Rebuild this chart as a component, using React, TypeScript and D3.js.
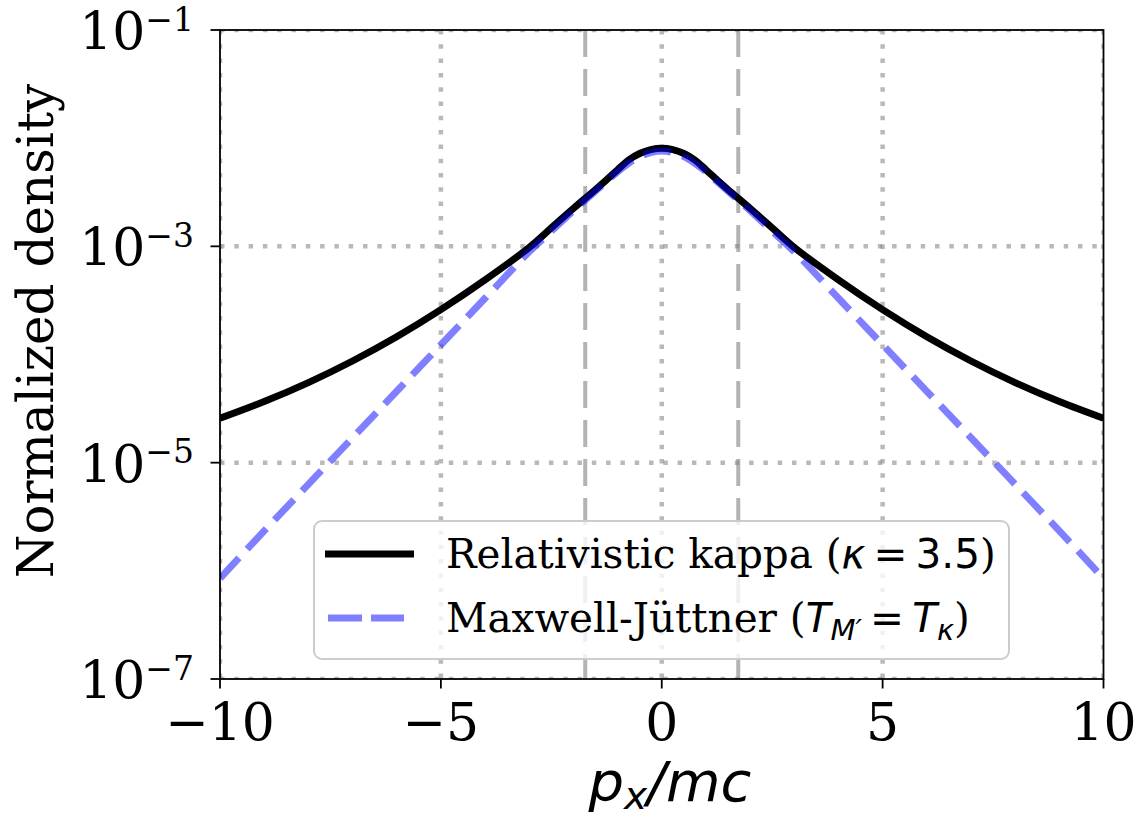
import React from "react";
import * as d3 from "d3";

// ---- data ----
const momentum = [
  -10, -9, -8, -7, -6, -5, -4, -3, -2.5, -2, -1.5, -1.25, -1, -0.75, -0.5, -0.25, 0,
  0.25, 0.5, 0.75, 1, 1.25, 1.5, 2, 2.5, 3, 4, 5, 6, 7, 8, 9, 10,
];
const kappaDensity = [
  2.57e-5, 3.67e-5, 5.5e-5, 8.71e-5, 1.46e-4, 2.6e-4, 4.9e-4, 9.77e-4, 1.48e-3, 2.24e-3, 3.35e-3, 4.12e-3, 5.1e-3, 6.28e-3, 7.21e-3, 7.83e-3, 8.05e-3,
  7.83e-3, 7.21e-3, 6.28e-3, 5.1e-3, 4.12e-3, 3.35e-3, 2.24e-3, 1.48e-3, 9.77e-4, 4.9e-4, 2.6e-4, 1.46e-4, 8.71e-5, 5.5e-5, 3.67e-5, 2.57e-5,
];
const mjDensity = [
  8.51e-7, 2.34e-6, 6.31e-6, 1.7e-5, 4.57e-5, 1.23e-4, 3.31e-4, 8.91e-4, 1.38e-3, 2.14e-3, 3.24e-3, 3.98e-3, 4.9e-3, 5.86e-3, 6.76e-3, 7.36e-3, 7.59e-3,
  7.36e-3, 6.76e-3, 5.86e-3, 4.9e-3, 3.98e-3, 3.24e-3, 2.14e-3, 1.38e-3, 8.91e-4, 3.31e-4, 1.23e-4, 4.57e-5, 1.7e-5, 6.31e-6, 2.34e-6, 8.51e-7,
];
const markerLines = [-1.732, 1.732];
const xTicks = [-10, -5, 0, 5, 10];
const yTickExponents = [-1, -3, -5, -7];

const W = 1143;
const H = 817;
const left = 220, right = 1103.5, top = 30, bottom = 679;

export default function App() {
  const x = d3.scaleLinear().domain([-10, 10]).range([left, right]);
  const y = d3.scaleLog().domain([1e-7, 1e-1]).range([bottom, top]);
  const pts = (vals: number[]) => momentum.map((p, i) => [p, vals[i]] as [number, number]);
  const line = d3
    .line<[number, number]>()
    .x((d) => x(d[0]))
    .y((d) => y(d[1]))
    .curve(d3.curveCatmullRom.alpha(0.5));

  const gridStyle = { stroke: "gray", strokeOpacity: 0.55, strokeWidth: 4.5, strokeDasharray: "4.5 9.8" };
  const serif = "'DejaVu Serif', serif";
  const sans = "'DejaVu Sans', sans-serif";
  const minus = "\u2212";
  const thin = "\u2009";

  return (
    <svg width={W} height={H} style={{ position: "absolute", left: 0, top: 0, background: "white" }}>
      <defs>
        <clipPath id="plotclip">
          <rect x={left} y={top} width={right - left} height={bottom - top} />
        </clipPath>
      </defs>
      <rect x={0} y={0} width={W} height={H} fill="white" />
      {/* grid */}
      <g clipPath="url(#plotclip)">
        {xTicks.map((t) => (
          <line key={"gx" + t} x1={x(t)} x2={x(t)} y1={top} y2={bottom} {...gridStyle} />
        ))}
        {yTickExponents.map((e) => (
          <line key={"gy" + e} x1={left} x2={right} y1={y(Math.pow(10, e))} y2={y(Math.pow(10, e))} {...gridStyle} />
        ))}
        {markerLines.map((m) => (
          <line key={"m" + m} x1={x(m)} x2={x(m)} y1={top} y2={bottom} stroke="gray" strokeOpacity={0.6} strokeWidth={4} strokeDasharray="27 12" />
        ))}
        <path d={line(pts(kappaDensity)) || ""} fill="none" stroke="black" strokeWidth={7} />
        <path d={line(pts(mjDensity)) || ""} fill="none" stroke="blue" strokeOpacity={0.5} strokeWidth={7} strokeDasharray="28 12" />
      </g>

      {/* legend */}
      <g>
        <rect x={314} y={521} width={695} height={138} rx={8} ry={8} fill="white" fillOpacity={0.8} stroke="#cccccc" strokeWidth={2} />
        <line x1={325} x2={414} y1={554} y2={554} stroke="black" strokeWidth={7} />
        <line x1={328} x2={404} y1={618} y2={618} stroke="blue" strokeOpacity={0.5} strokeWidth={7} strokeDasharray="34 9" />
        <text x={446} y={568} fontSize={40.5} fontFamily={serif} fill="black">
          <tspan>Relativistic kappa (</tspan>
          <tspan fontFamily={sans} fontStyle="italic">κ</tspan>
          <tspan fontFamily={sans}>{thin + "=" + thin + "3.5"}</tspan>
          <tspan>)</tspan>
        </text>
        <text x={446} y={632} fontSize={40.5} fontFamily={serif} fill="black">
          <tspan>Maxwell-Jüttner (</tspan>
          <tspan fontFamily={sans} fontStyle="italic">T</tspan>
          <tspan fontFamily={sans} fontStyle="italic" fontSize={29} dy={8}>M′</tspan>
          <tspan fontFamily={sans} dy={-8}>{thin + "=" + thin}</tspan>
          <tspan fontFamily={sans} fontStyle="italic">T</tspan>
          <tspan fontFamily={sans} fontStyle="italic" fontSize={29} dy={8}>κ</tspan>
          <tspan dy={-8}>)</tspan>
        </text>
      </g>

      {/* spines */}
      <rect x={left} y={top} width={right - left} height={bottom - top} fill="none" stroke="black" strokeWidth={1.8} />

      {/* x ticks */}
      {xTicks.map((t) => (
        <g key={"xt" + t}>
          <line x1={x(t)} x2={x(t)} y1={bottom} y2={bottom + 9.5} stroke="black" strokeWidth={1.8} />
          <text x={x(t)} y={740} textAnchor="middle" fontSize={52} fontFamily={serif} fill="black">
            {t < 0 ? minus + Math.abs(t) : String(t)}
          </text>
        </g>
      ))}
      {/* y ticks */}
      {yTickExponents.map((e) => {
        const yy = y(Math.pow(10, e));
        return (
          <g key={"yt" + e}>
            <line x1={left - 9.5} x2={left} y1={yy} y2={yy} stroke="black" strokeWidth={1.8} />
            <text x={194} y={yy + 19} textAnchor="end" fontSize={52} fontFamily={serif} fill="black">
              <tspan>10</tspan>
              <tspan fontSize={33} dy={-18.5}>{minus + Math.abs(e)}</tspan>
            </text>
          </g>
        );
      })}

      {/* axis labels */}
      <text transform={`translate(53, 331) rotate(-90)`} textAnchor="middle" fontSize={50} fontFamily={serif} fill="black">
        Normalized density
      </text>
      <text x={670} y={801} textAnchor="middle" fontSize={56} fontFamily={sans} fontStyle="italic" fill="black">
        <tspan>p</tspan>
        <tspan fontSize={39} dy={8}>x</tspan>
        <tspan dy={-8}>/mc</tspan>
      </text>
    </svg>
  );
}
